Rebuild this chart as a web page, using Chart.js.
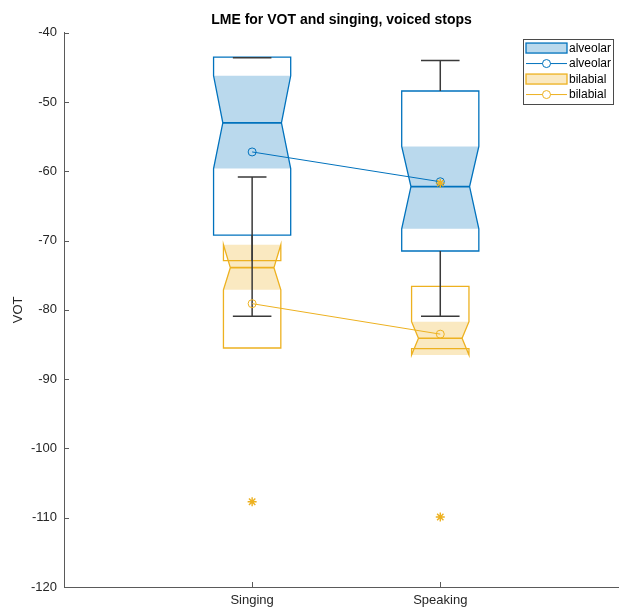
<!DOCTYPE html>
<html>
<head>
<meta charset="utf-8">
<title>LME for VOT and singing, voiced stops</title>
<script src="https://cdn.jsdelivr.net/npm/chart.js@4"></script>
<style>
  html, body { margin: 0; padding: 0; background: #fff; overflow: hidden; }
  canvas { display: block; }
</style>
</head>
<body>
<canvas id="chart" width="619" height="608"></canvas>
<script>
// --- data ---
const groups = ['Singing', 'Speaking'];

const yMin = -120;
const yMax = -40;
const yStep = 10;

// alveolar boxes
const alvQ1 = [-69.2, -71.5];
const alvQ3 = [-43.5, -48.4];
const alvMedian = [-53.0, -62.2];
const alvNotchLo = [-59.6, -68.3];
const alvNotchHi = [-46.2, -56.4];
const alvWhiskerLo = [-80.9, -80.9];
const alvWhiskerHi = [-43.6, -44.0];
const alvMean = [-57.2, -61.5];

// bilabial boxes
const labQ1 = [-85.5, -85.6];
const labQ3 = [-72.9, -76.6];
const labMedian = [-73.9, -84.1];
const labNotchLo = [-77.1, -86.5];
const labNotchHi = [-70.6, -81.7];
const labWhiskerLo = [null, null];
const labWhiskerHi = [-60.8, null];
const labMean = [-79.1, -83.5];
const labOutliers = [[-107.7], [-61.7, -109.9]];

// --- styles ---
const FONT = "'Liberation Sans', Arial, Helvetica, sans-serif";
const BLUE = '#0072BD';
const BLUE_FILL = 'rgba(0, 114, 189, 0.27)';
const GOLD = '#EDB120';
const GOLD_FILL = 'rgba(237, 177, 32, 0.28)';
const WHISKER = '#3a3a3a';
const AXIS = '#5a5a5a';
const TEXT = '#262626';
const NOTCH_INSET = 0.12;

const series = [
  { name: 'alveolar', color: BLUE, fill: BLUE_FILL, width: 0.41,
    q1: alvQ1, q3: alvQ3, med: alvMedian, nLo: alvNotchLo, nHi: alvNotchHi,
    wLo: alvWhiskerLo, wHi: alvWhiskerHi },
  { name: 'bilabial', color: GOLD, fill: GOLD_FILL, width: 0.305,
    q1: labQ1, q3: labQ3, med: labMedian, nLo: labNotchLo, nHi: labNotchHi,
    wLo: labWhiskerLo, wHi: labWhiskerHi }
];

function boxGeom(s, i, x, y) {
  const c = i + 1;
  const xL = x.getPixelForValue(c - s.width / 2);
  const xR = x.getPixelForValue(c + s.width / 2);
  return {
    xL, xR, cx: x.getPixelForValue(c), ins: (xR - xL) * NOTCH_INSET,
    q1: y.getPixelForValue(s.q1[i]), q3: y.getPixelForValue(s.q3[i]),
    med: y.getPixelForValue(s.med[i]),
    nLo: y.getPixelForValue(s.nLo[i]), nHi: y.getPixelForValue(s.nHi[i])
  };
}

// notched boxes + whiskers, drawn under the mean lines
const boxPlugin = {
  id: 'notchedBoxes',
  beforeDatasetsDraw(chart) {
    const { ctx, scales: { x, y } } = chart;
    ctx.save();
    ctx.lineJoin = 'miter';

    // shaded notches
    series.forEach(s => groups.forEach((g, i) => {
      const b = boxGeom(s, i, x, y);
      ctx.beginPath();
      ctx.moveTo(b.xL, b.nHi);
      ctx.lineTo(b.xL + b.ins, b.med);
      ctx.lineTo(b.xL, b.nLo);
      ctx.lineTo(b.xR, b.nLo);
      ctx.lineTo(b.xR - b.ins, b.med);
      ctx.lineTo(b.xR, b.nHi);
      ctx.closePath();
      ctx.fillStyle = s.fill;
      ctx.fill();
    }));

    // outlines and medians
    series.forEach(s => groups.forEach((g, i) => {
      const b = boxGeom(s, i, x, y);
      ctx.strokeStyle = s.color;
      ctx.lineWidth = 1.3;
      ctx.beginPath();
      ctx.moveTo(b.xL, b.q1);
      ctx.lineTo(b.xL, b.nLo);
      ctx.lineTo(b.xL + b.ins, b.med);
      ctx.lineTo(b.xL, b.nHi);
      ctx.lineTo(b.xL, b.q3);
      ctx.lineTo(b.xR, b.q3);
      ctx.lineTo(b.xR, b.nHi);
      ctx.lineTo(b.xR - b.ins, b.med);
      ctx.lineTo(b.xR, b.nLo);
      ctx.lineTo(b.xR, b.q1);
      ctx.closePath();
      ctx.stroke();
      ctx.lineWidth = 1.6;
      ctx.beginPath();
      ctx.moveTo(b.xL + b.ins, b.med);
      ctx.lineTo(b.xR - b.ins, b.med);
      ctx.stroke();
    }));

    // whiskers
    ctx.strokeStyle = WHISKER;
    ctx.lineWidth = 1.5;
    series.forEach(s => groups.forEach((g, i) => {
      const b = boxGeom(s, i, x, y);
      const half = (b.xR - b.xL) / 4;
      [[s.wHi[i], b.q3], [s.wLo[i], b.q1]].forEach(([v, from]) => {
        if (v == null) return;
        const wy = y.getPixelForValue(v);
        ctx.beginPath();
        ctx.moveTo(b.cx, from);
        ctx.lineTo(b.cx, wy);
        ctx.moveTo(b.cx - half, wy);
        ctx.lineTo(b.cx + half, wy);
        ctx.stroke();
      });
    }));
    ctx.restore();
  }
};

// inward tick marks, matlab style
const tickPlugin = {
  id: 'inwardTicks',
  afterDraw(chart) {
    const { ctx, chartArea: a, scales: { x, y } } = chart;
    ctx.save();
    ctx.strokeStyle = AXIS;
    ctx.lineWidth = 1;
    ctx.beginPath();
    y.ticks.forEach(t => {
      const py = Math.round(y.getPixelForValue(t.value)) + 0.5;
      ctx.moveTo(a.left, py);
      ctx.lineTo(a.left + 5, py);
    });
    x.ticks.forEach(t => {
      const px = Math.round(x.getPixelForValue(t.value)) + 0.5;
      ctx.moveTo(px, a.bottom);
      ctx.lineTo(px, a.bottom - 5);
    });
    ctx.stroke();
    ctx.restore();
  }
};

const legendEntries = [
  { kind: 'box', label: 'alveolar', color: BLUE, fill: BLUE_FILL },
  { kind: 'line', label: 'alveolar', color: BLUE },
  { kind: 'box', label: 'bilabial', color: GOLD, fill: GOLD_FILL },
  { kind: 'line', label: 'bilabial', color: GOLD }
];

const legendPlugin = {
  id: 'boxLegend',
  afterDraw(chart) {
    const { ctx, chartArea: a } = chart;
    const w = 90, rowH = 15.5, h = rowH * legendEntries.length + 3;
    const right = a.right - 6, top = a.top + 6;
    const left = right - w;
    ctx.save();
    ctx.fillStyle = '#fff';
    ctx.fillRect(left, top, w, h);
    ctx.strokeStyle = '#4a4a4a';
    ctx.lineWidth = 1;
    ctx.strokeRect(Math.round(left) + 0.5, Math.round(top) + 0.5, w, h);
    legendEntries.forEach((e, k) => {
      const cy = top + 1.5 + rowH * (k + 0.5);
      const ix0 = left + 3, ix1 = left + 44;
      if (e.kind === 'box') {
        ctx.fillStyle = e.fill;
        ctx.fillRect(ix0, cy - 5, ix1 - ix0, 10);
        ctx.strokeStyle = e.color;
        ctx.lineWidth = 1.3;
        ctx.strokeRect(ix0, cy - 5, ix1 - ix0, 10);
      } else {
        ctx.strokeStyle = e.color;
        ctx.lineWidth = 1;
        ctx.beginPath();
        ctx.moveTo(ix0, cy);
        ctx.lineTo(ix1, cy);
        ctx.stroke();
        ctx.fillStyle = '#fff';
        ctx.beginPath();
        ctx.arc((ix0 + ix1) / 2, cy, 4, 0, Math.PI * 2);
        ctx.fill();
        ctx.stroke();
      }
      ctx.fillStyle = '#000';
      ctx.font = '12px ' + FONT;
      ctx.textBaseline = 'middle';
      ctx.fillText(e.label, left + 46, cy + 0.5);
    });
    ctx.restore();
  }
};

const outlierPoints = [];
labOutliers.forEach((vals, i) => vals.forEach(v => outlierPoints.push({ x: i + 1, y: v })));

new Chart(document.getElementById('chart'), {
  type: 'scatter',
  data: {
    datasets: [
      {
        label: 'bilabial outliers',
        data: outlierPoints,
        showLine: false,
        pointStyle: 'star',
        pointRadius: 4.5,
        pointBorderColor: GOLD,
        pointBorderWidth: 1.4,
        order: 0
      },
      {
        label: 'alveolar',
        data: groups.map((g, i) => ({ x: i + 1, y: alvMean[i] })),
        showLine: true,
        borderColor: BLUE,
        borderWidth: 1,
        pointStyle: 'circle',
        pointRadius: 4,
        pointBorderColor: BLUE,
        pointBackgroundColor: 'rgba(0,0,0,0)',
        pointBorderWidth: 1,
        order: 1
      },
      {
        label: 'bilabial',
        data: groups.map((g, i) => ({ x: i + 1, y: labMean[i] })),
        showLine: true,
        borderColor: GOLD,
        borderWidth: 1,
        pointStyle: 'circle',
        pointRadius: 4,
        pointBorderColor: GOLD,
        pointBackgroundColor: 'rgba(0,0,0,0)',
        pointBorderWidth: 1,
        order: 2
      }
    ]
  },
  options: {
    responsive: false,
    animation: false,
    events: [],
    layout: { padding: 0, autoPadding: false },
    plugins: {
      legend: { display: false },
      tooltip: { enabled: false },
      title: {
        display: true,
        text: 'LME for VOT and singing, voiced stops',
        color: '#000',
        font: { family: FONT, size: 14, weight: 'bold' },
        padding: { top: 12, bottom: 4 },
        fullSize: false
      }
    },
    scales: {
      x: {
        type: 'linear',
        min: 0,
        max: 2.95,
        afterBuildTicks: axis => { axis.ticks = groups.map((g, i) => ({ value: i + 1 })); },
        afterFit: axis => { axis.height = 21; },
        grid: { display: false, drawTicks: false },
        border: { display: true, color: AXIS, width: 1 },
        ticks: {
          callback: v => groups[v - 1] || '',
          autoSkip: false,
          maxRotation: 0,
          padding: 6,
          color: TEXT,
          font: { family: FONT, size: 13 }
        }
      },
      y: {
        min: yMin,
        max: yMax,
        afterFit: axis => { axis.width = 64; },
        grid: { display: false, drawTicks: false },
        border: { display: true, color: AXIS, width: 1 },
        ticks: {
          stepSize: yStep,
          padding: 7,
          color: TEXT,
          font: { family: FONT, size: 13 }
        },
        title: {
          display: true,
          text: 'VOT',
          color: TEXT,
          font: { family: FONT, size: 13 },
          padding: { top: 11, bottom: 0 }
        }
      }
    }
  },
  plugins: [boxPlugin, tickPlugin, legendPlugin]
});
</script>
</body>
</html>
